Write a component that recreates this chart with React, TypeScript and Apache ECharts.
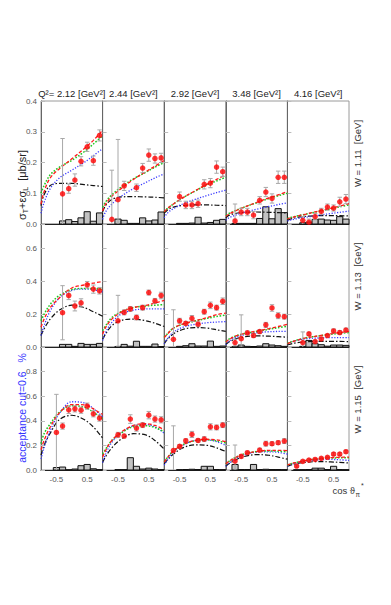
import React, { useEffect, useRef } from 'react';
import * as echarts from 'echarts';

// ---- labels ----
const Q2_LABELS = ['Q²= 2.12 [GeV²]', '2.44 [GeV²]', '2.92 [GeV²]', '3.48 [GeV²]', '4.16 [GeV²]'];
const W_LABELS = ['W = 1.11  [GeV]', 'W = 1.13  [GeV]', 'W = 1.15  [GeV]'];
const Y_MAX = [0.4, 0.75, 1.0];
const Y_INTERVAL = [0.1, 0.2, 0.2];
const X_TICK_LABELS = [-0.5, 0.5];

// cos(theta) bin centres of the data points / histogram
const BIN_X = [-0.9, -0.7, -0.5, -0.3, -0.1, 0.1, 0.3, 0.5, 0.7, 0.9];
// cos(theta) nodes at which the model curves were read
const CURVE_X = [-1, -0.9, -0.7, -0.4, 0, 0.4, 0.7, 1];

const n = null;
// data points: rows = W (1.11, 1.13, 1.15), columns = Q2
const POINT_Y = [
  [
    [n, n, n, 0.098, 0.115, 0.143, 0.204, 0.251, 0.206, 0.288],
    [n, 0.015, 0.079, 0.124, n, 0.118, 0.182, 0.224, 0.213, 0.215],
    [n, n, 0.089, 0.062, 0.062, 0.066, 0.129, 0.133, 0.185, 0.17],
    [n, 0.01, 0.039, 0.039, 0.029, 0.077, 0.104, 0.083, 0.152, 0.152],
    [n, n, 0.012, 0.006, 0.024, 0.041, 0.055, 0.052, 0.072, 0.081],
  ],
  [
    [n, n, n, 0.209, 0.314, 0.25, 0.269, 0.379, 0.353, 0.343],
    [n, n, 0.16, 0.211, 0.232, 0.18, 0.24, 0.332, 0.281, 0.314],
    [n, 0.047, 0.16, 0.144, 0.174, 0.139, 0.215, 0.254, 0.24, 0.279],
    [n, 0.027, 0.051, 0.086, 0.07, 0.094, 0.135, 0.238, 0.191, 0.185],
    [n, n, 0.027, 0.08, 0.033, 0.049, 0.07, 0.098, 0.088, 0.103],
  ],
  [
    [n, n, 0.305, 0.357, 0.489, 0.497, 0.486, 0.519, 0.457, 0.422],
    [n, n, 0.286, 0.276, 0.414, 0.341, 0.365, 0.446, 0.414, 0.408],
    [n, 0.159, 0.192, 0.238, 0.289, 0.24, 0.251, 0.351, 0.346, 0.365],
    [n, 0.073, 0.111, 0.141, n, 0.162, 0.214, 0.214, 0.222, 0.235],
    [n, 0.032, 0.07, 0.081, 0.086, 0.095, 0.103, 0.13, 0.13, 0.149],
  ],
];
const POINT_ERR = [
  [
    [n, n, n, 0.18, 0.015, 0.02, 0.015, 0.015, 0.015, 0.018],
    [n, 0.16, 0.196, 0.015, n, 0.012, 0.015, 0.02, 0.015, 0.015],
    [n, n, 0.015, 0.012, 0.012, 0.012, 0.015, 0.015, 0.02, 0.015],
    [n, 0.055, 0.012, 0.012, 0.012, 0.012, 0.015, 0.015, 0.02, 0.02],
    [n, n, 0.012, 0.01, 0.01, 0.01, 0.01, 0.01, 0.015, 0.015],
  ],
  [
    [n, n, n, 0.165, 0.025, 0.03, 0.025, 0.02, 0.025, 0.02],
    [n, n, 0.155, 0.015, 0.015, 0.015, 0.015, 0.015, 0.015, 0.02],
    [n, 0.18, 0.015, 0.012, 0.018, 0.015, 0.015, 0.02, 0.015, 0.02],
    [n, 0.02, 0.145, 0.012, 0.012, 0.012, 0.015, 0.02, 0.018, 0.015],
    [n, n, 0.065, 0.01, 0.008, 0.01, 0.01, 0.012, 0.012, 0.012],
  ],
  [
    [n, n, 0.31, 0.025, 0.03, 0.025, 0.025, 0.025, 0.025, 0.025],
    [n, n, 0.02, 0.015, 0.035, 0.025, 0.02, 0.03, 0.025, 0.025],
    [n, 0.2, 0.015, 0.015, 0.025, 0.015, 0.02, 0.025, 0.02, 0.02],
    [n, 0.13, 0.015, 0.012, n, 0.015, 0.02, 0.015, 0.015, 0.02],
    [n, 0.01, 0.01, 0.01, 0.01, 0.01, 0.01, 0.012, 0.012, 0.012],
  ],
];
// hatched histogram (per bin)
const BARS = [
  [
    [0, 0, 0, 0.01, 0.014, 0.008, 0.02, 0.04, 0.009, 0.036],
    [0, 0, 0.016, 0.012, 0.002, 0.002, 0.02, 0.01, 0.013, 0.039],
    [0, 0, 0.002, 0.002, 0.003, 0.022, 0.003, 0.005, 0.012, 0.015],
    [0, 0.002, 0.002, 0.002, 0.002, 0.018, 0.056, 0.017, 0.05, 0.037],
    [0, 0, 0.004, 0.006, 0.015, 0.016, 0.013, 0.012, 0.024, 0.016],
  ],
  [
    [0, 0, 0, 0.016, 0.016, 0.004, 0.022, 0.016, 0.016, 0.022],
    [0, 0, 0.003, 0.016, 0.005, 0.035, 0.004, 0.004, 0.018, 0.003],
    [0, 0, 0.004, 0.008, 0.02, 0.006, 0.006, 0.036, 0.004, 0.006],
    [0, 0.002, 0.012, 0.004, 0.003, 0.006, 0.02, 0.012, 0.008, 0.004],
    [0, 0, 0.004, 0.04, 0.02, 0.014, 0.005, 0.012, 0.012, 0.01],
  ],
  [
    [0, 0, 0.02, 0.024, 0.002, 0.008, 0.035, 0.045, 0.01, 0.003],
    [0, 0, 0.003, 0.003, 0.1, 0.03, 0.008, 0.015, 0.008, 0.003],
    [0, 0, 0.003, 0.004, 0.006, 0.004, 0.03, 0.03, 0.004, 0.003],
    [0, 0.045, 0.004, 0.004, 0.045, 0.004, 0.006, 0.004, 0.004, 0.003],
    [0, 0.002, 0.003, 0.004, 0.015, 0.015, 0.004, 0.03, 0.004, 0.003],
  ],
];
// model curves
const CURVE_RED = [
  [
    [0.065, 0.105, 0.15, 0.18, 0.212, 0.245, 0.272, 0.305],
    [0.042, 0.065, 0.09, 0.115, 0.145, 0.17, 0.188, 0.207],
    [0.04, 0.05, 0.065, 0.085, 0.108, 0.13, 0.145, 0.16],
    [0.025, 0.032, 0.042, 0.055, 0.07, 0.085, 0.095, 0.105],
    [0.017, 0.02, 0.025, 0.032, 0.042, 0.051, 0.058, 0.066],
  ],
  [
    [0.12, 0.17, 0.24, 0.3, 0.36, 0.378, 0.39, 0.398],
    [0.078, 0.12, 0.17, 0.212, 0.24, 0.254, 0.268, 0.284],
    [0.057, 0.078, 0.115, 0.14, 0.16, 0.18, 0.197, 0.207],
    [0.03, 0.045, 0.065, 0.082, 0.097, 0.112, 0.125, 0.138],
    [0.02, 0.028, 0.04, 0.055, 0.068, 0.08, 0.088, 0.095],
  ],
  [
    [0.165, 0.24, 0.35, 0.465, 0.532, 0.53, 0.497, 0.45],
    [0.105, 0.16, 0.24, 0.308, 0.362, 0.376, 0.362, 0.327],
    [0.065, 0.1, 0.155, 0.205, 0.24, 0.25, 0.245, 0.23],
    [0.05, 0.07, 0.1, 0.13, 0.15, 0.16, 0.16, 0.158],
    [0.04, 0.05, 0.062, 0.078, 0.092, 0.1, 0.103, 0.105],
  ],
];
const CURVE_GREEN = [
  [
    [0.1, 0.125, 0.16, 0.185, 0.207, 0.235, 0.26, 0.287],
    [0.055, 0.072, 0.095, 0.12, 0.147, 0.168, 0.185, 0.2],
    [0.04, 0.05, 0.065, 0.085, 0.107, 0.128, 0.14, 0.152],
    [0.028, 0.034, 0.043, 0.055, 0.069, 0.083, 0.092, 0.1],
    [0.018, 0.021, 0.026, 0.032, 0.041, 0.049, 0.056, 0.062],
  ],
  [
    [0.16, 0.2, 0.26, 0.315, 0.35, 0.357, 0.356, 0.352],
    [0.1, 0.13, 0.18, 0.215, 0.24, 0.25, 0.255, 0.258],
    [0.06, 0.08, 0.115, 0.138, 0.158, 0.175, 0.186, 0.195],
    [0.035, 0.048, 0.066, 0.082, 0.095, 0.108, 0.118, 0.127],
    [0.022, 0.03, 0.042, 0.056, 0.067, 0.077, 0.083, 0.088],
  ],
  [
    [0.214, 0.295, 0.376, 0.47, 0.522, 0.51, 0.47, 0.416],
    [0.13, 0.17, 0.24, 0.3, 0.352, 0.36, 0.345, 0.31],
    [0.07, 0.1, 0.155, 0.205, 0.238, 0.245, 0.238, 0.22],
    [0.05, 0.07, 0.1, 0.13, 0.15, 0.155, 0.153, 0.148],
    [0.04, 0.05, 0.062, 0.077, 0.09, 0.097, 0.099, 0.1],
  ],
];
const CURVE_BLUE = [
  [
    [0.035, 0.07, 0.115, 0.15, 0.175, 0.2, 0.222, 0.245],
    [0.015, 0.04, 0.065, 0.09, 0.115, 0.135, 0.15, 0.163],
    [0.02, 0.035, 0.05, 0.065, 0.08, 0.093, 0.102, 0.11],
    [0.012, 0.02, 0.028, 0.038, 0.048, 0.057, 0.063, 0.069],
    [0.01, 0.013, 0.017, 0.022, 0.028, 0.034, 0.038, 0.042],
  ],
  [
    [0.07, 0.13, 0.22, 0.3, 0.345, 0.353, 0.35, 0.336],
    [0.04, 0.09, 0.15, 0.2, 0.225, 0.232, 0.233, 0.232],
    [0.02, 0.05, 0.09, 0.12, 0.138, 0.148, 0.152, 0.155],
    [0.015, 0.035, 0.057, 0.075, 0.087, 0.093, 0.095, 0.096],
    [0.02, 0.028, 0.04, 0.05, 0.055, 0.057, 0.057, 0.057],
  ],
  [
    [0.09, 0.18, 0.32, 0.46, 0.555, 0.545, 0.5, 0.43],
    [0.06, 0.13, 0.225, 0.3, 0.36, 0.37, 0.35, 0.3],
    [0.04, 0.08, 0.15, 0.2, 0.24, 0.245, 0.23, 0.2],
    [0.03, 0.055, 0.09, 0.123, 0.145, 0.148, 0.143, 0.13],
    [0.03, 0.043, 0.058, 0.073, 0.083, 0.086, 0.083, 0.078],
  ],
];
const CURVE_BLACK = [
  [
    [0.06, 0.095, 0.125, 0.132, 0.132, 0.128, 0.125, 0.122],
    [0.04, 0.06, 0.08, 0.088, 0.089, 0.088, 0.087, 0.085],
    [0.035, 0.045, 0.055, 0.06, 0.062, 0.062, 0.061, 0.06],
    [0.02, 0.028, 0.034, 0.038, 0.039, 0.038, 0.037, 0.036],
    [0.012, 0.016, 0.021, 0.025, 0.027, 0.027, 0.027, 0.026],
  ],
  [
    [0.07, 0.11, 0.17, 0.225, 0.255, 0.24, 0.215, 0.188],
    [0.047, 0.08, 0.13, 0.162, 0.17, 0.16, 0.145, 0.125],
    [0.02, 0.045, 0.08, 0.107, 0.118, 0.115, 0.105, 0.095],
    [0.015, 0.03, 0.048, 0.062, 0.068, 0.066, 0.063, 0.06],
    [0.012, 0.018, 0.026, 0.032, 0.034, 0.034, 0.034, 0.033],
  ],
  [
    [0.12, 0.2, 0.3, 0.41, 0.445, 0.41, 0.35, 0.26],
    [0.06, 0.11, 0.18, 0.25, 0.295, 0.285, 0.24, 0.17],
    [0.05, 0.08, 0.13, 0.18, 0.205, 0.2, 0.18, 0.15],
    [0.03, 0.05, 0.08, 0.11, 0.125, 0.12, 0.105, 0.088],
    [0.03, 0.04, 0.052, 0.063, 0.068, 0.066, 0.062, 0.057],
  ],
];

// ---- layout ----
const GRID_LEFT = 41;
const PANEL_W = 61.6;
const GRID_TOP = 101;
const PANEL_H = 123;
const FONT = '"Liberation Sans", Arial, sans-serif';

function buildOption() {
  const grids: any[] = [];
  const xAxes: any[] = [];
  const yAxes: any[] = [];
  const series: any[] = [];
  for (let r = 0; r < 3; r++) {
    for (let c = 0; c < 5; c++) {
      const idx = r * 5 + c;
      grids.push({
        left: GRID_LEFT + c * PANEL_W,
        top: GRID_TOP + r * PANEL_H,
        width: PANEL_W,
        height: PANEL_H,
        show: true,
        borderColor: '#9a9a9a',
        borderWidth: 1,
      });
      xAxes.push({
        type: 'value',
        gridIndex: idx,
        min: -1,
        max: 1,
        interval: 0.5,
        axisLine: { show: true, onZero: false, lineStyle: { color: '#222', width: 1 } },
        axisTick: { show: false },
        splitLine: { show: false },
        axisLabel: {
          show: r === 2,
          fontSize: 8,
          color: '#555',
          fontFamily: FONT,
          margin: 5,
          formatter: (v: number) => (X_TICK_LABELS.some((t) => Math.abs(t - v) < 1e-9) ? String(v) : ''),
        },
      });
      yAxes.push({
        type: 'value',
        gridIndex: idx,
        min: 0,
        max: Y_MAX[r],
        interval: Y_INTERVAL[r],
        axisLine: { show: true, onZero: false, lineStyle: { color: '#666', width: 1 } },
        axisTick: { show: true, inside: true, length: 4, lineStyle: { color: '#bbb', width: 1 } },
        splitLine: { show: false },
        axisLabel: {
          show: c === 0,
          showMaxLabel: r === 0,
          fontSize: 8,
          color: '#555',
          fontFamily: FONT,
          margin: 4,
          formatter: (v: number) => v.toFixed(1),
        },
      });

      // histogram
      series.push({
        type: 'custom',
        xAxisIndex: idx,
        yAxisIndex: idx,
        z: 2,
        encode: { x: 0, y: 1 },
        data: BIN_X.map((x, i) => [x, BARS[r][c][i]]).filter((d) => d[1] > 0),
        renderItem: (params: any, api: any) => {
          const x = api.value(0);
          const h = api.value(1);
          const p1 = api.coord([x - 0.1, h]);
          const p2 = api.coord([x + 0.1, 0]);
          return {
            type: 'rect',
            shape: { x: p1[0], y: p1[1], width: p2[0] - p1[0], height: p2[1] - p1[1] },
            style: { fill: '#c2c2c2', stroke: '#111', lineWidth: 1 },
          };
        },
      });

      const curve = (vals: number[], color: string, dash: number[], width: number) => ({
        type: 'line',
        xAxisIndex: idx,
        yAxisIndex: idx,
        z: 3,
        showSymbol: false,
        symbol: 'none',
        smooth: 0.35,
        data: CURVE_X.map((x, i) => [x, vals[i]]),
        lineStyle: { color, type: dash, width },
        silent: true,
      });
      series.push(curve(CURVE_BLACK[r][c], '#111', [5, 2, 1.5, 2], 1.2));
      series.push(curve(CURVE_BLUE[r][c], '#3b3bff', [1.2, 1.6], 1.3));
      series.push(curve(CURVE_GREEN[r][c], '#1fc81f', [1.6, 1.6], 1.5));
      series.push(curve(CURVE_RED[r][c], '#ff1a1a', [3.5, 2], 1.3));

      const pts: number[][] = [];
      BIN_X.forEach((x, i) => {
        const y = POINT_Y[r][c][i];
        if (y !== null) pts.push([x, y as number, POINT_ERR[r][c][i] as number]);
      });
      // error bars
      series.push({
        type: 'custom',
        xAxisIndex: idx,
        yAxisIndex: idx,
        z: 4,
        encode: { x: 0, y: 1 },
        data: pts,
        renderItem: (params: any, api: any) => {
          const x = api.value(0);
          const y = api.value(1);
          const e = api.value(2);
          const lo = Math.max(0, y - e);
          const top = api.coord([x, y + e]);
          const bot = api.coord([x, lo]);
          const w = 2.2;
          const st = { stroke: '#a8a8a8', lineWidth: 1 };
          const children: any[] = [
            { type: 'line', shape: { x1: top[0], y1: top[1], x2: bot[0], y2: bot[1] }, style: st },
            { type: 'line', shape: { x1: top[0] - w, y1: top[1], x2: top[0] + w, y2: top[1] }, style: st },
          ];
          if (lo > 0) {
            children.push({ type: 'line', shape: { x1: bot[0] - w, y1: bot[1], x2: bot[0] + w, y2: bot[1] }, style: st });
          }
          return { type: 'group', children };
        },
      });
      series.push({
        type: 'scatter',
        xAxisIndex: idx,
        yAxisIndex: idx,
        z: 5,
        symbol: 'circle',
        symbolSize: 5.5,
        itemStyle: { color: '#ff0000' },
        data: pts.map((p) => [p[0], p[1]]),
      });
    }
  }

  const graphic: any[] = [];
  Q2_LABELS.forEach((t, c) => {
    graphic.push({
      type: 'text',
      x: GRID_LEFT + c * PANEL_W + PANEL_W / 2,
      y: 93,
      style: { text: t, fontSize: 9.5, fontFamily: FONT, fill: '#222', align: 'center', verticalAlign: 'middle' },
    });
  });
  W_LABELS.forEach((t, r) => {
    graphic.push({
      type: 'text',
      x: 357,
      y: GRID_TOP + r * PANEL_H + PANEL_H / 2 - 9,
      rotation: Math.PI / 2,
      style: { text: t, fontSize: 9.5, fontFamily: FONT, fill: '#333', align: 'center', verticalAlign: 'middle' },
    });
  });
  graphic.push({
    type: 'text',
    x: 22,
    y: 185,
    rotation: Math.PI / 2,
    style: {
      text: 'σ{sub|T}+εσ{sub|L}  [μb/sr]',
      fontSize: 11,
      fontFamily: FONT,
      fill: '#222',
      align: 'center',
      verticalAlign: 'middle',
      rich: {
        sub: { fontSize: 7, fontFamily: FONT, fill: '#222', padding: [6, 0, 0, 0] },
      },
    },
  });
  graphic.push({
    type: 'text',
    x: 22,
    y: 408,
    rotation: Math.PI / 2,
    style: {
      text: 'acceptance cut=0.6   %',
      fontSize: 10.5,
      fontFamily: FONT,
      fill: '#3535ff',
      align: 'center',
      verticalAlign: 'middle',
    },
  });
  // cos theta_pi* label, built from three pieces
  graphic.push({
    type: 'text',
    x: 355,
    y: 490,
    style: { text: 'cos ϑ', fontSize: 9.5, fontFamily: FONT, fill: '#333', align: 'right', verticalAlign: 'middle' },
  });
  graphic.push({
    type: 'text',
    x: 355.5,
    y: 494,
    style: { text: 'π', fontSize: 6.5, fontFamily: FONT, fill: '#333', align: 'left', verticalAlign: 'middle' },
  });
  graphic.push({
    type: 'text',
    x: 361,
    y: 485,
    style: { text: '*', fontSize: 7, fontFamily: FONT, fill: '#333', align: 'left', verticalAlign: 'middle' },
  });

  return {
    animation: false,
    backgroundColor: '#ffffff',
    grid: grids,
    xAxis: xAxes,
    yAxis: yAxes,
    series,
    graphic,
  };
}

export default function App() {
  const ref = useRef<HTMLDivElement>(null);
  useEffect(() => {
    if (!ref.current) return;
    const chart = echarts.init(ref.current, undefined, { renderer: 'svg' });
    chart.setOption(buildOption());
    return () => chart.dispose();
  }, []);
  return <div ref={ref} style={{ position: 'absolute', left: 0, top: 0, width: 391, height: 605 }} />;
}
